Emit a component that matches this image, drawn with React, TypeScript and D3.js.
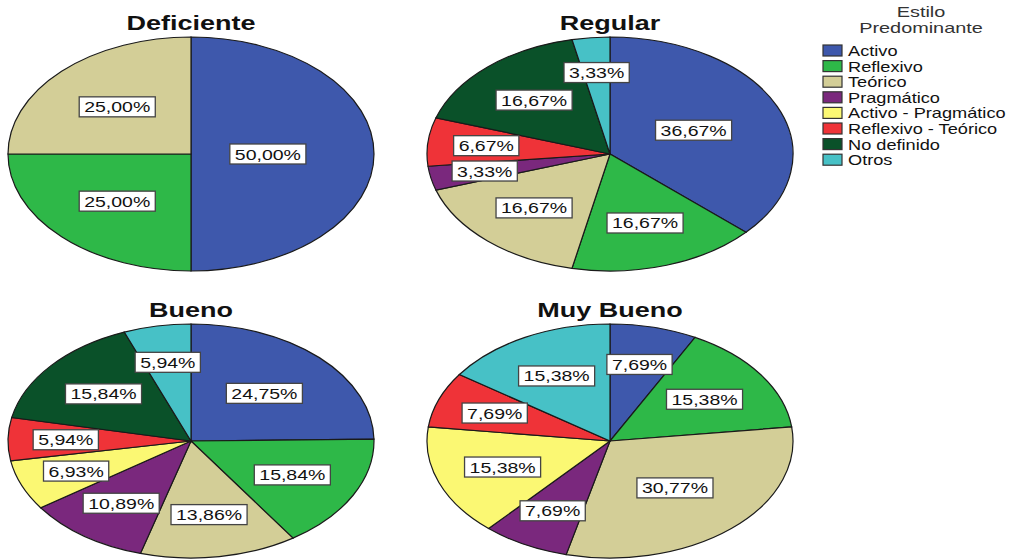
import React, { useEffect, useRef } from "react";
import * as d3 from "d3";

// Learning-style categories and their fill colours
const categories = [
  "Activo",
  "Reflexivo",
  "Teórico",
  "Pragmático",
  "Activo - Pragmático",
  "Reflexivo - Teórico",
  "No definido",
  "Otros",
];
const colors = [
  "#3e58ac",
  "#2eb848",
  "#d3ce97",
  "#7a287d",
  "#fbf873",
  "#ef3338",
  "#0a5129",
  "#47c1c6",
];

// Percentages per performance level, in category order
const deficiente = [50.0, 25.0, 25.0, 0, 0, 0, 0, 0];
const regular = [36.67, 16.67, 16.67, 3.33, 0, 6.67, 16.67, 3.33];
const bueno = [24.75, 15.84, 13.86, 10.89, 6.93, 5.94, 15.84, 5.94];
const muyBueno = [7.69, 15.38, 30.77, 7.69, 15.38, 7.69, 0, 15.38];

const panelTitles = ["Deficiente", "Regular", "Bueno", "Muy Bueno"];
const panelValues = [deficiente, regular, bueno, muyBueno];

const legendTitle = ["Estilo", "Predominante"];

const W = 1022;
const H = 559;
const FONT = "'Liberation Sans', Arial, sans-serif";
const STRETCH = 1.3;

export default function App() {
  const ref = useRef<SVGSVGElement | null>(null);

  useEffect(() => {
    const svg = d3.select(ref.current);
    svg.selectAll("*").remove();

    const rx = 183;
    const ry = 117;
    const centers = [
      [191, 154],
      [610, 154],
      [191, 441],
      [610, 441],
    ];
    const titleY = [30, 30, 317, 317];

    const pie = d3
      .pie<number>()
      .sort(null)
      .value((d) => d);
    const arc = d3.arc<d3.PieArcDatum<number>>().innerRadius(0).outerRadius(rx);
    const fmt = (v: number) => v.toFixed(2).replace(".", ",") + "%";

    panelValues.forEach((vals, pi) => {
      const [cx, cy] = centers[pi];
      const arcs = pie(vals);

      // Elliptical pie: circle arcs squashed vertically
      const g = svg
        .append("g")
        .attr("transform", `translate(${cx},${cy}) scale(1,${ry / rx})`);
      g.selectAll("path")
        .data(arcs.filter((a) => a.value > 0))
        .join("path")
        .attr("d", arc as any)
        .attr("fill", (d) => colors[d.index])
        .attr("stroke", "#1a1a1a")
        .attr("stroke-width", 1.2)
        .attr("vector-effect", "non-scaling-stroke");

      // Title
      svg
        .append("text")
        .attr("transform", `translate(${cx},${titleY[pi]}) scale(${STRETCH + 0.05},1)`)
        .attr("text-anchor", "middle")
        .attr("font-family", FONT)
        .attr("font-weight", "bold")
        .attr("font-size", 20)
        .attr("fill", "#111")
        .text(panelTitles[pi]);

      // Boxed value labels
      arcs
        .filter((a) => a.value > 0)
        .forEach((a) => {
          const mid = (a.startAngle + a.endAngle) / 2;
          const p = a.value / 100;
          const r = 0.72 - 0.6 * p;
          const x = cx + r * rx * Math.sin(mid);
          const y = cy - r * ry * Math.cos(mid);
          const lg = svg.append("g");
          const rect = lg.append("rect");
          const t = lg
            .append("text")
            .attr("transform", `translate(${x},${y + 5.5}) scale(${STRETCH},1)`)
            .attr("text-anchor", "middle")
            .attr("font-family", FONT)
            .attr("font-size", 15)
            .attr("fill", "#111")
            .text(fmt(a.value));
          const len = (t.node() as SVGTextElement).getComputedTextLength() * STRETCH;
          const bw = len + 10;
          const bh = 20;
          rect
            .attr("x", x - bw / 2)
            .attr("y", y - bh / 2)
            .attr("width", bw)
            .attr("height", bh)
            .attr("fill", "#fff")
            .attr("stroke", "#444")
            .attr("stroke-width", 1.3);
        });
    });

    // Legend
    const lx = 823;
    const legendCx = 921;
    legendTitle.forEach((s, i) => {
      svg
        .append("text")
        .attr("transform", `translate(${legendCx},${17 + i * 16}) scale(${STRETCH + 0.07},1)`)
        .attr("text-anchor", "middle")
        .attr("font-family", FONT)
        .attr("font-size", 14.5)
        .attr("fill", "#333")
        .text(s);
    });
    categories.forEach((c, i) => {
      const by = 56 + i * 15.6;
      svg
        .append("rect")
        .attr("x", lx)
        .attr("y", by - 11)
        .attr("width", 19)
        .attr("height", 11)
        .attr("fill", colors[i])
        .attr("stroke", "#333")
        .attr("stroke-width", 1.2);
      svg
        .append("text")
        .attr("transform", `translate(${lx + 25},${by}) scale(${STRETCH},1)`)
        .attr("font-family", FONT)
        .attr("font-size", 14)
        .attr("fill", "#111")
        .text(c);
    });
  }, []);

  return (
    <svg
      ref={ref}
      width={W}
      height={H}
      style={{ position: "absolute", left: 0, top: 0, background: "#fff" }}
    />
  );
}
